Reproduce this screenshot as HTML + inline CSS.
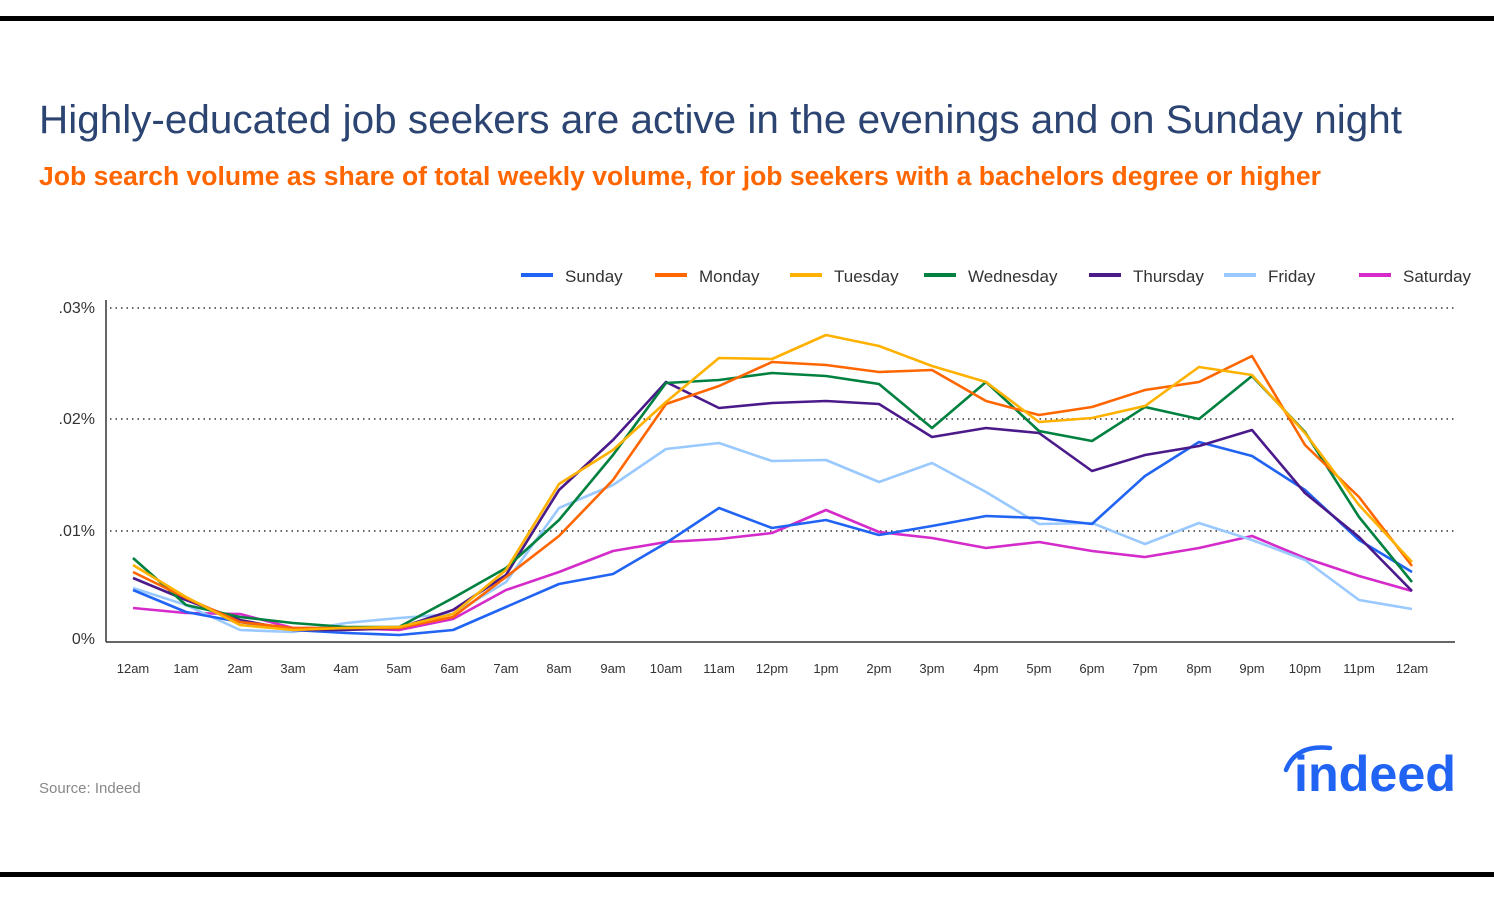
<!DOCTYPE html>
<html><head><meta charset="utf-8"><style>
body{margin:0;width:1494px;height:893px;background:#fff;overflow:hidden;font-family:"Liberation Sans",sans-serif;}
</style></head><body>
<svg width="1494" height="893" xmlns="http://www.w3.org/2000/svg" font-family="Liberation Sans, sans-serif">
<rect x="0" y="16" width="1494" height="5" fill="#000"/>
<rect x="0" y="872" width="1494" height="5" fill="#000"/>
<text x="39" y="133" font-size="40" fill="#2b4472" textLength="1363" lengthAdjust="spacingAndGlyphs">Highly-educated job seekers are active in the evenings and on Sunday night</text>
<text x="39" y="185" font-size="25.5" font-weight="bold" fill="#ff6600" textLength="1282" lengthAdjust="spacingAndGlyphs">Job search volume as share of total weekly volume, for job seekers with a bachelors degree or higher</text>
<g font-size="17" fill="#333">
<line x1="521" y1="275" x2="553" y2="275" stroke="#2164f3" stroke-width="4"/><text x="565" y="282">Sunday</text>
<line x1="655" y1="275" x2="687" y2="275" stroke="#ff6600" stroke-width="4"/><text x="699" y="282">Monday</text>
<line x1="790" y1="275" x2="822" y2="275" stroke="#ffb100" stroke-width="4"/><text x="834" y="282">Tuesday</text>
<line x1="924" y1="275" x2="956" y2="275" stroke="#00813f" stroke-width="4"/><text x="968" y="282">Wednesday</text>
<line x1="1089" y1="275" x2="1121" y2="275" stroke="#4b1a8a" stroke-width="4"/><text x="1133" y="282">Thursday</text>
<line x1="1224" y1="275" x2="1256" y2="275" stroke="#99c9ff" stroke-width="4"/><text x="1268" y="282">Friday</text>
<line x1="1359" y1="275" x2="1391" y2="275" stroke="#d42bca" stroke-width="4"/><text x="1403" y="282">Saturday</text>
</g>
<g stroke="#333" stroke-width="1.5" stroke-dasharray="1.5,4">
<line x1="110" y1="308" x2="1456" y2="308"/><line x1="110" y1="419" x2="1456" y2="419"/><line x1="110" y1="531" x2="1456" y2="531"/>
</g>
<line x1="106" y1="300" x2="106" y2="642" stroke="#333" stroke-width="1.5"/>
<line x1="106" y1="642" x2="1455" y2="642" stroke="#333" stroke-width="1.5"/>
<g font-size="16" fill="#333" text-anchor="end">
<text x="95" y="313">.03%</text><text x="95" y="424">.02%</text><text x="95" y="536">.01%</text><text x="95" y="644">0%</text>
</g>
<g font-size="13" fill="#333" text-anchor="middle">
<text x="133" y="673">12am</text><text x="186" y="673">1am</text><text x="240" y="673">2am</text><text x="293" y="673">3am</text><text x="346" y="673">4am</text><text x="399" y="673">5am</text><text x="453" y="673">6am</text><text x="506" y="673">7am</text><text x="559" y="673">8am</text><text x="613" y="673">9am</text><text x="666" y="673">10am</text><text x="719" y="673">11am</text><text x="772" y="673">12pm</text><text x="826" y="673">1pm</text><text x="879" y="673">2pm</text><text x="932" y="673">3pm</text><text x="986" y="673">4pm</text><text x="1039" y="673">5pm</text><text x="1092" y="673">6pm</text><text x="1145" y="673">7pm</text><text x="1199" y="673">8pm</text><text x="1252" y="673">9pm</text><text x="1305" y="673">10pm</text><text x="1359" y="673">11pm</text><text x="1412" y="673">12am</text>
</g>
<g fill="none" stroke-width="2.6" stroke-linejoin="round">
<polyline stroke="#d42bca" points="133,608 186,613 240,614 293,628 346,628 399,630 453,619 506,590 559,572 613,551 666,542 719,539 772,533 826,510 879,532 932,538 986,548 1039,542 1092,551 1145,557 1199,548 1252,536 1305,558 1359,576 1412,591"/>
<polyline stroke="#99c9ff" points="133,588 186,605 240,630 293,632 346,623 399,618 453,614 506,582 559,508 613,485 666,449 719,443 772,461 826,460 879,482 932,463 986,492 1039,524 1092,523 1145,544 1199,523 1252,540 1305,560 1359,600 1412,609"/>
<polyline stroke="#2164f3" points="133,590 186,612 240,622 293,630 346,633 399,635 453,630 506,607 559,584 613,574 666,543 719,508 772,528 826,520 879,535 932,526 986,516 1039,518 1092,524 1145,476 1199,442 1252,456 1305,490 1359,540 1412,572"/>
<polyline stroke="#4b1a8a" points="133,578 186,600 240,620 293,630 346,630 399,628 453,610 506,575 559,490 613,440 666,382 719,408 772,403 826,401 879,404 932,437 986,428 1039,433 1092,471 1145,455 1199,446 1252,430 1305,493 1359,537 1412,591"/>
<polyline stroke="#00813f" points="133,558 186,605 240,617 293,623 346,627 399,627 453,598 506,568 559,520 613,455 666,383 719,380 772,373 826,376 879,384 932,428 986,382 1039,431 1092,441 1145,407 1199,419 1252,376 1305,432 1359,517 1412,582"/>
<polyline stroke="#ff6600" points="133,572 186,598 240,622 293,628 346,628 399,628 453,617 506,577 559,536 613,480 666,404 719,386 772,362 826,365 879,372 932,370 986,401 1039,415 1092,407 1145,390 1199,382 1252,356 1305,445 1359,497 1412,566"/>
<polyline stroke="#ffb100" points="133,565 186,597 240,625 293,630 346,628 399,627 453,614 506,570 559,484 613,450 666,402 719,358 772,359 826,335 879,346 932,366 986,382 1039,422 1092,418 1145,406 1199,367 1252,375 1305,433 1359,505 1412,562"/>
</g>
<text x="39" y="793" font-size="15" fill="#888">Source: Indeed</text>
<path d="M1286,770 Q1296,744 1330,748" stroke="#2164f3" stroke-width="4.5" fill="none" stroke-linecap="round"/>
<text x="1294" y="791" font-size="50" font-weight="bold" fill="#2164f3" textLength="1162" lengthAdjust="spacingAndGlyphs" style="display:none">indeed</text>
<text x="1294" y="791" font-size="50" font-weight="bold" fill="#2164f3" textLength="162" lengthAdjust="spacingAndGlyphs">indeed</text>
</svg>
</body></html>
